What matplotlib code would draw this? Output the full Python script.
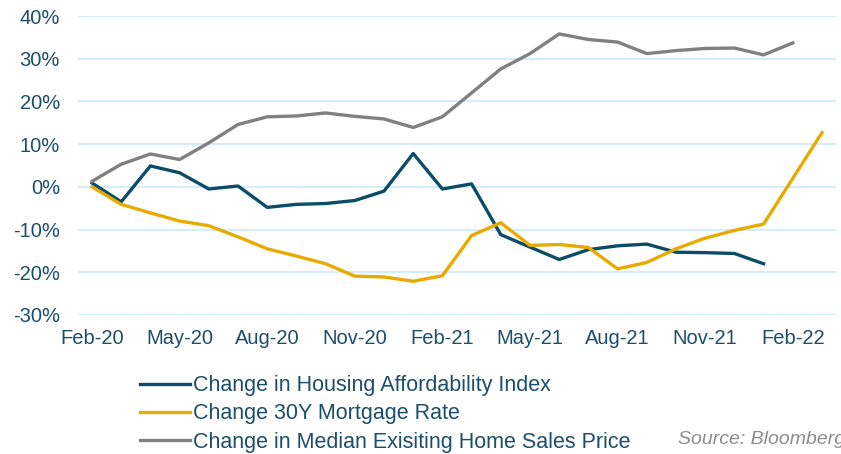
import matplotlib.pyplot as plt
import numpy as np

plt.rcParams['font.family'] = ['Liberation Sans', 'DejaVu Sans']

tick_labels = ['Feb-20', 'May-20', 'Aug-20', 'Nov-20', 'Feb-21', 'May-21', 'Aug-21', 'Nov-21', 'Feb-22']

# monthly % changes, Feb-20 onward
affordability = [0.9, -3.5, 4.9, 3.3, -0.5, 0.2, -4.8, -4.1, -3.9, -3.2, -1.0, 7.8,
                 -0.5, 0.7, -11.2, -14.1, -17.0, -14.7, -13.8, -13.4, -15.3, -15.4, -15.6, -18.0]
mortgage = [0.0, -4.1, -6.1, -8.0, -9.1, -11.7, -14.5, -16.2, -18.0, -20.9, -21.1, -22.1,
            -20.8, -11.4, -8.4, -13.7, -13.5, -14.2, -19.2, -17.7, -14.5, -12.0, -10.2, -8.7,
            2.0, 12.7]
home_price = [1.3, 5.3, 7.7, 6.4, 10.3, 14.6, 16.4, 16.6, 17.3, 16.5, 15.9, 13.9,
              16.4, 22.0, 27.6, 31.2, 35.8, 34.5, 33.9, 31.2, 31.9, 32.4, 32.5, 30.9, 33.7]

blue = '#0b4d68'
yellow = '#e8aa00'
gray = '#808080'
text_color = '#1b4f6b'

fig = plt.figure(figsize=(8.41, 4.54), dpi=100)
ax = fig.add_axes([78 / 841, 1 - 315 / 454, (836 - 78) / 841, (315 - 16) / 454])

ax.plot(range(len(affordability)), affordability, color=blue, lw=2.4,
        label='Change in Housing Affordability Index')
ax.plot(range(len(mortgage)), mortgage, color=yellow, lw=2.4,
        label='Change 30Y Mortgage Rate')
ax.plot(range(len(home_price)), home_price, color=gray, lw=2.4,
        label='Change in Median Exisiting Home Sales Price')

ax.set_ylim(-30, 40)
ax.set_xlim(-0.48, 25.48)
ax.set_yticks(np.arange(-30, 41, 10))
ax.set_yticklabels([f'{v}%' for v in range(-30, 41, 10)])
ax.set_xticks(range(0, 25, 3))
ax.set_xticklabels(tick_labels)
ax.grid(axis='y', color='#c8ebfa', lw=1.2)
ax.set_axisbelow(True)
for s in ax.spines.values():
    s.set_visible(False)
ax.tick_params(length=0, labelsize=14.5, colors=text_color)
ax.tick_params(axis='x', pad=10)
ax.tick_params(axis='y', pad=13)

leg = fig.legend(loc='upper left', bbox_to_anchor=(121 / 841, 1 - 356 / 454), frameon=False,
                 fontsize=15.5, handlelength=2.3, handletextpad=0.15, labelspacing=0.33)
for t in leg.get_texts():
    t.set_color(text_color)

fig.text(678 / 841, 1 - 439 / 454, 'Source: Bloomberg', style='italic', color='#8c8c8c',
         fontsize=14, va='center', ha='left')

fig.savefig('out.png', dpi=100)
